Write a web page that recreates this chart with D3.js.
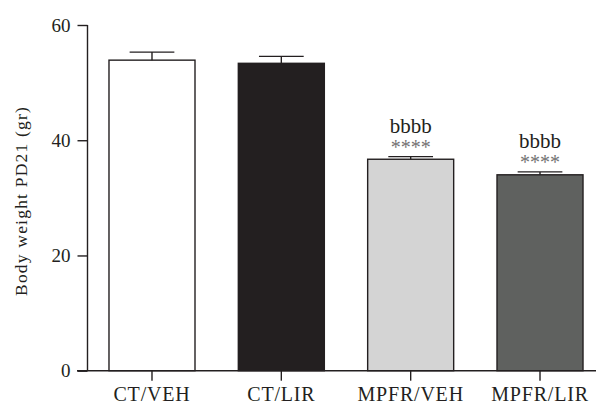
<!DOCTYPE html>
<html>
<head>
<meta charset="utf-8">
<script src="https://cdn.jsdelivr.net/npm/d3@7"></script>
<style>
  html, body { margin: 0; padding: 0; background: #fff; }
  svg { display: block; }
  text { font-family: "Liberation Serif", "Times New Roman", serif; fill: #231f20; }
</style>
</head>
<body>
<svg id="chart" width="596" height="405"></svg>
<script>
// Body weight at PD21 by group (mean ± SEM)
const groups = ["CT/VEH", "CT/LIR", "MPFR/VEH", "MPFR/LIR"];
const means = [53.9, 53.35, 36.7, 34.0];
const errors = [1.4, 1.2, 0.45, 0.5];
const fills = ["#ffffff", "#231f20", "#d4d4d4", "#5f615f"];
const sigStars = ["", "", "****", "****"];
const sigLetters = ["", "", "bbbb", "bbbb"];
const yTicks = [0, 20, 40, 60];

const ink = "#231f20";
const svg = d3.select("#chart");

const x = d3.scaleBand()
  .domain(groups)
  .range([87, 605])
  .paddingInner(0.335)
  .paddingOuter(0.17);

const y = d3.scaleLinear()
  .domain([0, 60])
  .range([370.7, 25]);

// Bars
svg.append("g").selectAll("rect")
  .data(groups)
  .join("rect")
  .attr("x", d => x(d))
  .attr("y", (d, i) => y(means[i]))
  .attr("width", x.bandwidth())
  .attr("height", (d, i) => y(0) - y(means[i]))
  .attr("fill", (d, i) => fills[i])
  .attr("stroke", ink)
  .attr("stroke-width", 1.4);

// Error bars (upper only)
const capHalf = x.bandwidth() * 0.26;
const eb = svg.append("g").attr("stroke", ink).attr("stroke-width", 1.4);
groups.forEach((g, i) => {
  const cx = x(g) + x.bandwidth() / 2;
  eb.append("line")
    .attr("x1", cx).attr("x2", cx)
    .attr("y1", y(means[i])).attr("y2", y(means[i] + errors[i]));
  eb.append("line")
    .attr("x1", cx - capHalf).attr("x2", cx + capHalf)
    .attr("y1", y(means[i] + errors[i])).attr("y2", y(means[i] + errors[i]));
});

// Significance marks
groups.forEach((g, i) => {
  const cx = x(g) + x.bandwidth() / 2;
  const top = y(means[i] + errors[i]);
  if (sigStars[i]) {
    svg.append("text")
      .attr("x", cx).attr("y", top - 2.5)
      .attr("text-anchor", "middle")
      .attr("font-size", 20)
      .style("fill", "#737373")
      .text(sigStars[i]);
  }
  if (sigLetters[i]) {
    svg.append("text")
      .attr("x", cx).attr("y", top - 24)
      .attr("text-anchor", "middle")
      .attr("font-size", 21)
      .text(sigLetters[i]);
  }
});

// Y axis
const yAxis = svg.append("g")
  .attr("transform", "translate(87.5,0)")
  .call(d3.axisLeft(y).tickValues(yTicks).tickSize(10).tickPadding(7));
yAxis.select(".domain").attr("stroke", ink).attr("stroke-width", 1.4)
  .attr("d", `M0,${y(60)}V${y(0)}`);
yAxis.selectAll(".tick line").attr("stroke", ink).attr("stroke-width", 1.4);
yAxis.selectAll(".tick text")
  .attr("font-family", "Liberation Serif, serif")
  .attr("font-size", 19)
  .style("fill", ink);

// X axis
const xAxis = svg.append("g")
  .attr("transform", `translate(0,${y(0)})`)
  .call(d3.axisBottom(x).tickSize(10).tickPadding(6));
xAxis.select(".domain").attr("stroke", ink).attr("stroke-width", 1.4)
  .attr("d", "M77,0H596");
xAxis.selectAll(".tick line").attr("stroke", ink).attr("stroke-width", 1.4);
xAxis.selectAll(".tick text")
  .attr("font-family", "Liberation Serif, serif")
  .attr("font-size", 20)
  .attr("letter-spacing", 0.8)
  .style("fill", ink);

// Y axis title
svg.append("text")
  .attr("transform", "translate(27,201) rotate(-90)")
  .attr("text-anchor", "middle")
  .attr("font-size", 17.5)
  .attr("letter-spacing", 1.2)
  .text("Body weight PD21 (gr)");
</script>
</body>
</html>
